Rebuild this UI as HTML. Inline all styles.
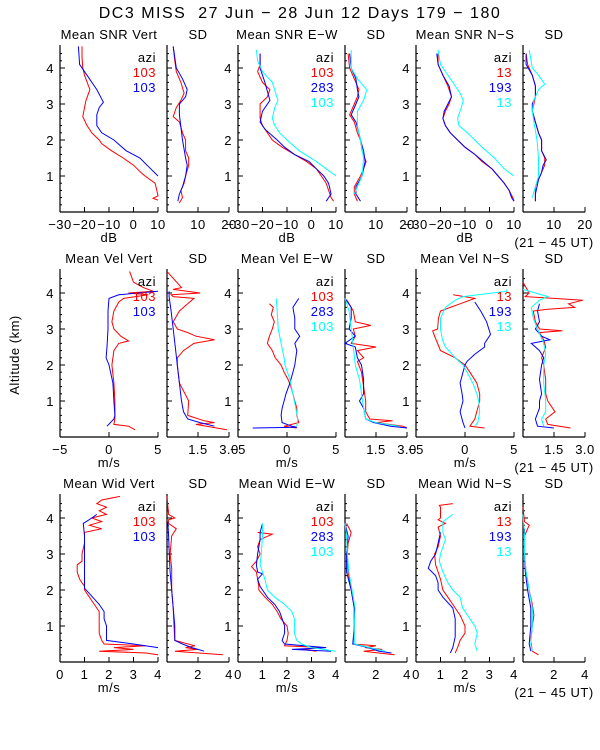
<!DOCTYPE html>
<html><head><meta charset="utf-8"><style>
html,body{margin:0;padding:0;background:#fff;}
svg{display:block;font-family:"Liberation Sans",sans-serif;}
svg text{letter-spacing:0.5px;white-space:pre;}
</style></head><body>
<svg id="chart" width="600" height="750" viewBox="0 0 600 750">
<rect width="600" height="750" fill="#fff"/>
<text x="300" y="18" font-size="16" style="letter-spacing:1.5px" text-anchor="middle" xml:space="preserve">DC3 MISS  27 Jun − 28 Jun 12 Days 179 − 180</text>
<text x="0" y="0" font-size="13" text-anchor="middle" transform="translate(19,355) rotate(-90)">Altitude (km)</text>
</svg>
<script>
// ---- data: [altitude km, value] ----
const snrVertRed=[[4.6,-21],[4.3,-21],[4.0,-20.7],[3.8,-20],[3.4,-17.8],[3.1,-19.4],[2.9,-20],[2.65,-20.7],[2.4,-19],[2.2,-17],[2.0,-14],[1.9,-13],[1.7,-9],[1.5,-4.2],[1.3,0],[1.1,3],[1.0,4.7],[0.8,8.8],[0.6,9.5],[0.45,10],[0.38,8],[0.33,10]];
const snrVertBlue=[[4.6,-22.5],[4.1,-22],[3.8,-19],[3.4,-15],[3.05,-12.3],[2.9,-14],[2.7,-15],[2.4,-15],[2.2,-13],[2.0,-8],[1.7,-3],[1.5,2.6],[1.2,7],[1.0,10]];
const sdVertRedS=[[4.6,2],[4.2,2.5],[3.9,3],[3.6,4.5],[3.3,5.5],[3.1,4.5],[2.9,3],[2.65,2],[2.5,4],[2.2,5],[2.0,6],[1.7,6],[1.5,7],[1.3,7],[1.0,6],[0.8,5.5],[0.6,4.5],[0.4,5],[0.25,4]];
const sdVertBlueS=[[4.6,2],[4.0,3],[3.7,5],[3.4,6.5],[3.2,6],[3.0,4],[2.7,4],[2.0,5],[1.5,6],[1.3,6.5],[1.0,6],[0.7,5],[0.5,4],[0.3,3.5]];
const snrEwRed=[[4.4,-21],[4.1,-21],[3.9,-22],[3.6,-20],[3.4,-17],[3.2,-18],[3.0,-21],[2.6,-21],[2.4,-20],[2.2,-18],[2.0,-16],[1.8,-12],[1.6,-7],[1.4,-2],[1.2,2],[1.0,4],[0.8,6],[0.6,7],[0.4,8],[0.3,9]];
const snrEwBlue=[[4.4,-21],[4.0,-21],[3.6,-19],[3.1,-17],[2.8,-20],[2.5,-21],[2.3,-19],[2.0,-14],[1.8,-11],[1.6,-7],[1.4,-1],[1.2,2],[1.0,5],[0.8,7],[0.5,8],[0.3,6]];
const snrEwCyan=[[4.5,-22.5],[4.2,-22],[3.9,-20],[3.6,-16],[3.1,-13.7],[2.9,-15],[2.6,-16],[2.4,-15],[2.2,-13],[2.0,-10],[1.7,-5],[1.4,2],[1.2,6],[1.0,10]];
const sdEwRed=[[4.4,1],[4.0,1.5],[3.7,3],[3.4,4.5],[3.2,4],[3.0,3],[2.7,1.5],[2.5,3],[2.2,4],[2.0,5],[1.7,5.5],[1.4,6.8],[1.2,6],[1.0,5],[0.7,3],[0.5,3],[0.3,4]];
const sdEwBlue=[[4.4,1.5],[4.0,2],[3.7,3.5],[3.4,4],[3.2,4.5],[3.0,3.5],[2.7,2],[2.5,3.5],[2.2,4.5],[2.0,5],[1.7,6],[1.4,6.5],[1.2,6],[1.0,5.5],[0.7,3.5],[0.5,3.5],[0.3,5]];
const sdEwCyan=[[4.5,2],[4.0,2],[3.7,4],[3.4,7],[3.1,6],[2.8,4],[2.4,4],[2.0,5],[1.5,6],[1.0,5.5],[0.7,4],[0.5,3]];
const snrNsRed=[[4.4,-21],[4.1,-21],[3.8,-19],[3.5,-17],[3.2,-15.5],[3.0,-16.5],[2.8,-18],[2.6,-19],[2.4,-18],[2.2,-16],[2.0,-13],[1.8,-10],[1.6,-6],[1.4,-3],[1.2,1],[1.0,3.5],[0.8,6],[0.6,8],[0.4,9.5],[0.3,10]];
const snrNsBlue=[[4.4,-21.5],[4.1,-21],[3.8,-19],[3.5,-16.5],[3.2,-15.5],[3.0,-17],[2.8,-18.5],[2.6,-19],[2.4,-18],[2.2,-16],[2.0,-13],[1.8,-10],[1.6,-6],[1.4,-2.5],[1.2,1],[1.0,3.5],[0.8,6],[0.6,8],[0.4,9],[0.3,10]];
const snrNsCyan=[[4.5,-21],[4.1,-20],[3.9,-18],[3.6,-15],[3.3,-12],[3.1,-10.7],[2.9,-11.5],[2.6,-13],[2.4,-12.5],[2.2,-9],[2.0,-6],[1.8,-3],[1.5,2],[1.2,6],[1.0,10]];
const sdNsRed=[[4.4,1],[4.1,1.5],[3.8,3],[3.5,4],[3.2,4],[3.0,3.5],[2.8,3],[2.5,4],[2.2,5],[2.0,6],[1.7,6],[1.5,7],[1.3,7],[1.1,6],[0.9,5],[0.7,4],[0.5,4],[0.3,4]];
const sdNsBlue=[[4.4,1],[4.1,1],[3.8,3],[3.5,4],[3.2,4],[3.0,3],[2.8,3],[2.5,4],[2.2,5],[2.0,6],[1.7,6],[1.45,7.5],[1.3,6.5],[1.1,6],[0.9,5],[0.7,4.5],[0.5,4],[0.3,4]];
const sdNsCyan=[[4.5,2],[4.0,3],[3.8,5],[3.55,7],[3.4,5],[3.1,3.5],[2.8,3],[2.5,3.5],[2.0,4.5],[1.5,5],[1.0,5],[0.7,4],[0.4,3]];
const velVertRed=[[4.6,2.1],[4.3,2.5],[4.15,3.5],[4.05,4.5],[4.0,2],[3.95,4],[3.85,1.5],[3.75,1],[3.5,0.5],[3.2,0.3],[3.0,0.5],[2.8,1.2],[2.67,2.0],[2.6,1],[2.4,0.5],[2.0,0.3],[1.5,0.5],[1.0,0.6],[0.5,0.6],[0.35,0.5],[0.3,2],[0.2,2.65]];
const velVertBlue=[[4.05,5],[3.95,1],[3.85,0],[3.5,-0.1],[3.0,-0.1],[2.5,-0.2],[2.2,-0.3],[2.0,0],[1.5,0.4],[1.0,0.5],[0.6,0.6],[0.5,0.5],[0.3,-0.2]];
const sdVelVertRed=[[4.6,0],[4.15,0.7],[4.1,0.3],[4.0,1.6],[3.95,0.2],[3.9,0.3],[3.85,1.3],[3.7,1],[3.5,0.6],[3.2,0.3],[3.0,0.5],[2.9,1],[2.8,1.4],[2.7,2.3],[2.6,1.3],[2.4,0.8],[2.2,0.5],[2.0,0.5],[1.5,0.6],[1.0,1.05],[0.6,1.0],[0.45,1.8],[0.4,2.3],[0.35,1.4],[0.25,2.4],[0.2,2.9]];
const sdVelVertBlue=[[4.05,0.1],[3.9,0.1],[3.5,0.2],[3.0,0.3],[2.5,0.4],[2.0,0.5],[1.5,0.6],[1.0,0.7],[0.7,0.8],[0.5,1.0],[0.4,1.6],[0.3,2.3]];
const velEwRed=[[3.7,-1.8],[3.6,-1.4],[3.4,-1.6],[3.2,-1.3],[3.0,-1.5],[2.8,-1.8],[2.6,-2.0],[2.4,-1.5],[2.2,-1.2],[2.0,-0.6],[1.8,-0.3],[1.6,0.1],[1.4,0.4],[1.2,0.6],[1.0,0.8],[0.8,1.0],[0.6,1.0],[0.4,1.2],[0.3,-0.3],[0.25,1.0]];
const velEwBlue=[[3.85,1.2],[3.6,0.6],[3.3,0.8],[3.0,0.8],[2.8,1.3],[2.6,0.8],[2.4,1.0],[2.2,0.9],[2.0,0.8],[1.8,0.6],[1.5,0.3],[1.2,-0.1],[1.0,-0.3],[0.8,-0.5],[0.6,-0.6],[0.4,-0.5],[0.3,0.5],[0.27,1.0],[0.25,-3.5]];
const velEwCyan=[[3.85,-1.1],[3.5,-1.0],[3.0,-0.9],[2.6,-0.6],[2.2,-0.3],[2.0,-0.2],[1.6,0.3],[1.2,0.6],[0.8,0.9],[0.5,1.1],[0.3,1.0]];
const sdVelEwRed=[[3.8,0.1],[3.5,0.4],[3.2,0.5],[3.1,1.25],[3.0,0.4],[2.8,0.5],[2.6,0.3],[2.5,1.5],[2.4,0.6],[2.2,0.9],[2.1,0.6],[1.8,0.8],[1.4,0.9],[1.0,1.0],[0.7,1.0],[0.5,1.2],[0.45,2.3],[0.4,1.5],[0.3,2.8],[0.25,3.0]];
const sdVelEwBlue=[[3.85,0],[3.6,0.3],[3.3,0.3],[3.0,0.2],[2.8,0.5],[2.6,0],[2.5,0.5],[2.2,0.6],[2.0,0.8],[1.6,0.9],[1.2,0.9],[1.0,0.7],[0.8,0.9],[0.5,1.0],[0.4,1.4],[0.3,2.2],[0.25,3.0]];
const sdVelEwCyan=[[3.85,0],[3.5,0.2],[3.0,0.3],[2.5,0.4],[2.0,0.5],[1.6,0.7],[1.2,0.8],[0.8,0.9],[0.5,1.0],[0.4,1.5],[0.3,2.6]];
const velNsRed=[[3.95,-1.2],[3.85,1.0],[3.8,0.5],[3.7,-0.5],[3.6,-1.5],[3.5,-2.5],[3.3,-2.7],[3.0,-2.8],[2.95,-3.3],[2.8,-3.1],[2.6,-2.8],[2.4,-2.5],[2.2,-1.0],[2.0,0],[1.8,0.5],[1.5,1.2],[1.2,1.5],[1.0,1.5],[0.8,1.3],[0.5,1.0],[0.3,0.5],[0.25,2.0]];
const velNsBlue=[[3.75,1.0],[3.5,1.6],[3.2,2.2],[2.85,2.6],[2.6,2.0],[2.5,2.0],[2.3,1.0],[2.1,0.2],[2.0,0],[1.8,-0.2],[1.5,-0.5],[1.2,-0.3],[1.0,-0.2],[0.7,-0.5],[0.4,-0.2],[0.25,0]];
const velNsCyan=[[4.1,4.25],[4.05,4.3],[3.9,-0.2],[3.8,-1.0],[3.6,-2.0],[3.3,-2.5],[3.0,-2.5],[2.7,-2.3],[2.5,-2.0],[2.2,-1.0],[2.0,-0.2],[1.8,0.2],[1.5,0.8],[1.2,1.2],[1.0,1.4],[0.7,1.5],[0.4,1.3],[0.3,1.0]];
const sdVelNsRed=[[4.3,0],[4.0,0.3],[3.9,0.1],[3.85,1.5],[3.8,2.9],[3.7,2.2],[3.6,2.5],[3.55,1.2],[3.5,0.5],[3.2,0.6],[3.0,0.8],[2.95,1.9],[2.9,0.8],[2.7,1.0],[2.5,1.1],[2.2,0.9],[2.0,1.0],[1.6,1.1],[1.2,1.1],[1.0,1.2],[0.7,1.55],[0.5,1.1],[0.35,1.2],[0.25,2.3]];
const sdVelNsBlue=[[3.7,0.8],[3.5,0.7],[3.2,0.8],[3.0,0.6],[2.8,0.9],[2.7,1.3],[2.6,0.4],[2.4,0.8],[2.2,1.0],[2.0,0.9],[1.6,0.8],[1.2,0.9],[1.0,0.8],[0.8,0.8],[0.5,0.6],[0.3,0.7],[0.25,1.5]];
const sdVelNsCyan=[[4.1,0],[3.9,1.2],[3.8,0.8],[3.6,0.4],[3.3,0.5],[3.0,0.7],[2.6,1.0],[2.3,1.1],[2.0,1.0],[1.5,1.0],[1.0,1.1],[0.7,1.1],[0.5,0.9],[0.3,1.0]];
const widVertRed=[[4.6,2.45],[4.5,1.7],[4.4,1.5],[4.3,1.9],[4.2,1.6],[4.1,1.9],[4.0,1.3],[3.9,1.7],[3.8,1.2],[3.7,1.7],[3.6,1.0],[3.3,1.0],[3.0,0.9],[2.8,0.9],[2.7,0.7],[2.5,0.7],[2.3,0.8],[2.1,1.0],[2.0,1.0],[1.8,1.2],[1.6,1.4],[1.4,1.6],[1.2,1.6],[1.0,1.6],[0.8,1.6],[0.6,1.7],[0.5,1.8],[0.45,3.5],[0.4,2.2],[0.35,3.0],[0.3,1.6],[0.25,3.5],[0.2,4.0]];
const widVertBlue=[[4.1,1.5],[4.0,1.3],[3.85,0.95],[3.5,1.0],[3.0,1.0],[2.5,1.0],[2.05,1.0],[1.9,1.2],[1.6,1.6],[1.4,1.8],[1.2,1.8],[1.0,1.9],[0.6,1.9],[0.5,3.0],[0.4,4.0]];
const sdWidVertRed=[[4.6,0],[4.1,0.1],[4.0,0.5],[3.95,0.1],[3.85,0.1],[3.7,0.6],[3.5,0.3],[3.0,0.2],[2.6,0.3],[2.0,0.3],[1.5,0.4],[1.0,0.45],[0.6,0.5],[0.45,1.8],[0.4,1.2],[0.35,2.0],[0.3,0.5],[0.2,3.6]];
const sdWidVertBlue=[[3.9,0.05],[3.5,0.1],[3.0,0.15],[2.5,0.2],[2.0,0.3],[1.5,0.4],[1.0,0.5],[0.6,0.5],[0.5,1.0],[0.4,1.6],[0.3,2.4]];
const widEwRed=[[3.6,0.8],[3.55,1.4],[3.4,0.9],[3.2,0.8],[3.0,0.9],[2.8,0.75],[2.65,0.55],[2.5,0.75],[2.3,0.8],[2.1,0.85],[2.0,0.85],[1.8,1.1],[1.6,1.4],[1.4,1.6],[1.2,1.75],[1.0,2.0],[0.8,2.05],[0.6,2.0],[0.45,1.9],[0.4,3.5],[0.35,2.6],[0.3,3.2]];
const widEwBlue=[[3.85,1.0],[3.6,0.9],[3.4,0.9],[3.0,0.8],[2.7,0.75],[2.5,0.8],[2.45,1.0],[2.3,0.8],[2.1,0.9],[2.0,1.0],[1.8,1.2],[1.6,1.5],[1.4,1.7],[1.2,1.8],[1.0,1.9],[0.8,1.9],[0.6,1.8],[0.5,1.9],[0.4,3.6],[0.35,2.2],[0.3,3.8]];
const widEwCyan=[[3.85,1.0],[3.5,1.0],[3.0,0.95],[2.7,0.9],[2.5,1.0],[2.3,1.1],[2.0,1.2],[1.8,1.5],[1.6,1.9],[1.4,2.2],[1.2,2.3],[1.0,2.3],[0.8,2.3],[0.6,2.4],[0.5,2.6],[0.4,3.0],[0.3,4.0]];
const sdWidEwRed=[[3.85,0.1],[3.6,0.4],[3.3,0.2],[3.0,0.15],[2.5,0.2],[2.0,0.4],[1.5,0.6],[1.0,0.6],[0.8,0.6],[0.5,0.5],[0.45,2.0],[0.4,1.3],[0.35,2.4],[0.3,1.2],[0.2,3.2]];
const sdWidEwBlue=[[3.85,0],[3.5,0.2],[3.0,0.1],[2.5,0.1],[2.0,0.4],[1.5,0.6],[1.0,0.6],[0.5,0.5],[0.4,1.5],[0.3,2.2],[0.25,3.0]];
const sdWidEwCyan=[[3.85,0],[3.5,0.1],[3.0,0.15],[2.5,0.25],[2.0,0.45],[1.5,0.65],[1.0,0.6],[0.5,0.6],[0.4,1.6],[0.3,2.6]];
const widNsRed=[[4.4,1.5],[4.35,0.95],[4.3,1.0],[4.0,1.0],[3.95,0.9],[3.85,1.2],[3.75,0.9],[3.5,1.0],[3.2,0.9],[3.0,0.76],[2.7,0.8],[2.5,0.9],[2.3,1.0],[2.0,1.1],[1.8,1.3],[1.5,1.6],[1.3,1.8],[1.0,2.0],[0.8,2.0],[0.6,1.8],[0.4,1.7],[0.25,1.6]];
const widNsBlue=[[3.6,1.0],[3.3,0.9],[3.0,0.8],[2.8,0.6],[2.6,0.5],[2.4,0.8],[2.2,0.9],[2.0,0.9],[1.8,1.1],[1.5,1.5],[1.2,1.6],[1.0,1.6],[0.7,1.6],[0.4,1.5],[0.25,1.4]];
const widNsCyan=[[4.1,1.5],[3.9,1.1],[3.6,1.1],[3.4,1.2],[3.0,1.0],[2.8,0.95],[2.5,1.1],[2.2,1.3],[2.0,1.5],[1.8,1.8],[1.5,1.9],[1.2,2.2],[1.0,2.4],[0.8,2.5],[0.5,2.4],[0.3,2.5]];
const sdWidNsRed=[[4.3,0],[3.9,0.1],[3.8,0.4],[3.5,0.1],[3.0,0.1],[2.5,0.2],[2.0,0.4],[1.6,0.6],[1.3,0.7],[1.0,0.6],[0.6,0.5],[0.3,0.6],[0.2,1.0]];
const sdWidNsBlue=[[3.7,0.1],[3.0,0.1],[2.5,0.15],[2.0,0.3],[1.5,0.5],[1.0,0.5],[0.5,0.4],[0.3,0.5]];
const sdWidNsCyan=[[4.1,0],[3.5,0.1],[3.0,0.1],[2.5,0.2],[2.0,0.4],[1.5,0.6],[1.0,0.6],[0.5,0.5],[0.3,0.6]];
const altTicks=[1,2,3,4];
const snrTicks=["-30","-20","-10","0","10"];
const sdSnrTicks=["10","20"];
const velTicks=["-5","0","5"];
const sdVelTicks=["1.5","3.0"];
const widTicks=["0","1","2","3","4"];
const sdWidTicks=["2","4"];
const legVert=["103","103"];
const legEw=["103","283","103"];
const legNs=["13","193","13"];
// ---- drawing ----
const NS='http://www.w3.org/2000/svg';
const svg=document.getElementById('chart');
const COLORS=['#ff0000','#0000ff','#00ffff'];
const rows=[{top:45,bottom:212},{top:269,bottom:437},{top:494,bottom:662}];
const cols=[[60,158],[167,229],[238,336],[345,407],[416,514],[523,585]];
const KM=36;
function el(tag,attrs,parent){const e=document.createElementNS(NS,tag);for(const k in attrs)e.setAttribute(k,attrs[k]);(parent||svg).appendChild(e);return e;}
function txt(x,y,s,anchor,fill,parent){const t=el('text',{x:x,y:y,'font-size':13,'text-anchor':anchor||'middle',fill:fill||'#000'},parent);t.textContent=s;return t;}
function panel(r,c,xmin,xmax,ticks,title,series,name,leg,xlabel,utLabel){
  const R=rows[r],C=cols[c];
  const g=el('g',{});
  
  
  const sx=v=>C[0]+(v-xmin)/(xmax-xmin)*(C[1]-C[0]);
  const sy=a=>R.bottom-a*KM;
  el('line',{x1:C[0],y1:R.top,x2:C[0],y2:R.bottom,stroke:'#000','stroke-width':1.2},g);
  el('line',{x1:C[0],y1:R.bottom,x2:C[1],y2:R.bottom,stroke:'#000','stroke-width':1.2},g);
  for(let a=0.2;a<4.6;a+=0.2){const y=sy(a);const major=Math.abs(a-Math.round(a))<0.01;el('line',{x1:C[0],y1:y,x2:C[0]+(major?5:2),y2:y,stroke:'#000'},g);}
  if(c%2===0) altTicks.forEach(a=>{txt(C[0]-6,sy(a)+5,String(a),'end','#000',g);});
  ticks.forEach(s=>{const x=sx(parseFloat(s));el('line',{x1:x,y1:R.bottom,x2:x,y2:R.bottom-5,stroke:'#000'},g);txt(x,R.bottom+17,s.replace('-','−'),'middle','#000',g);});
  const tt=txt((C[0]+C[1])/2,R.top-6,title,'middle','#000',g);
  
  
  if(xlabel){const xl=txt((C[0]+C[1])/2,R.bottom+30,xlabel,'middle','#000',g);}
  if(utLabel){const u=txt(554,R.bottom+35,'(21 − 45 UT)','middle','#000',g);}
  series.forEach((s,i)=>{
    const pts=s.map(p=>sx(p[1]).toFixed(1)+','+sy(p[0]).toFixed(1)).join(' ');
    const pl=el('polyline',{points:pts,fill:'none',stroke:COLORS[i],'stroke-width':1.0},g);
    
    
  });
  if(leg){
    const lx=C[1]-2,ly=R.top+17;
    const a=txt(lx,ly,'azi','end','#000',g);
    
    
    leg.forEach((s,i)=>{const t=txt(lx,ly+15*(i+1),s,'end',COLORS[i],g);});
  }
}
panel(0,0,-30,10,snrTicks,'Mean SNR Vert',[snrVertRed,snrVertBlue],'snr-vert-mean',legVert,'dB',false);
panel(0,1,0,20,sdSnrTicks,'SD',[sdVertRedS,sdVertBlueS],'snr-vert-sd',null,null,false);
panel(0,2,-30,10,snrTicks,'Mean SNR E−W',[snrEwRed,snrEwBlue,snrEwCyan],'snr-ew-mean',legEw,'dB',false);
panel(0,3,0,20,sdSnrTicks,'SD',[sdEwRed,sdEwBlue,sdEwCyan],'snr-ew-sd',null,null,false);
panel(0,4,-30,10,snrTicks,'Mean SNR N−S',[snrNsRed,snrNsBlue,snrNsCyan],'snr-ns-mean',legNs,'dB',false);
panel(0,5,0,20,sdSnrTicks,'SD',[sdNsRed,sdNsBlue,sdNsCyan],'snr-ns-sd',null,null,true);
panel(1,0,-5,5,velTicks,'Mean Vel Vert',[velVertRed,velVertBlue],'vel-vert-mean',legVert,'m/s',false);
panel(1,1,0,3,sdVelTicks,'SD',[sdVelVertRed,sdVelVertBlue],'vel-vert-sd',null,null,false);
panel(1,2,-5,5,velTicks,'Mean Vel E−W',[velEwRed,velEwBlue,velEwCyan],'vel-ew-mean',legEw,'m/s',false);
panel(1,3,0,3,sdVelTicks,'SD',[sdVelEwRed,sdVelEwBlue,sdVelEwCyan],'vel-ew-sd',null,null,false);
panel(1,4,-5,5,velTicks,'Mean Vel N−S',[velNsRed,velNsBlue,velNsCyan],'vel-ns-mean',legNs,'m/s',false);
panel(1,5,0,3,sdVelTicks,'SD',[sdVelNsRed,sdVelNsBlue,sdVelNsCyan],'vel-ns-sd',null,null,true);
panel(2,0,0,4,widTicks,'Mean Wid Vert',[widVertRed,widVertBlue],'wid-vert-mean',legVert,'m/s',false);
panel(2,1,0,4,sdWidTicks,'SD',[sdWidVertRed,sdWidVertBlue],'wid-vert-sd',null,null,false);
panel(2,2,0,4,widTicks,'Mean Wid E−W',[widEwRed,widEwBlue,widEwCyan],'wid-ew-mean',legEw,'m/s',false);
panel(2,3,0,4,sdWidTicks,'SD',[sdWidEwRed,sdWidEwBlue,sdWidEwCyan],'wid-ew-sd',null,null,false);
panel(2,4,0,4,widTicks,'Mean Wid N−S',[widNsRed,widNsBlue,widNsCyan],'wid-ns-mean',legNs,'m/s',false);
panel(2,5,0,4,sdWidTicks,'SD',[sdWidNsRed,sdWidNsBlue,sdWidNsCyan],'wid-ns-sd',null,null,true);
</script>
</body></html>
